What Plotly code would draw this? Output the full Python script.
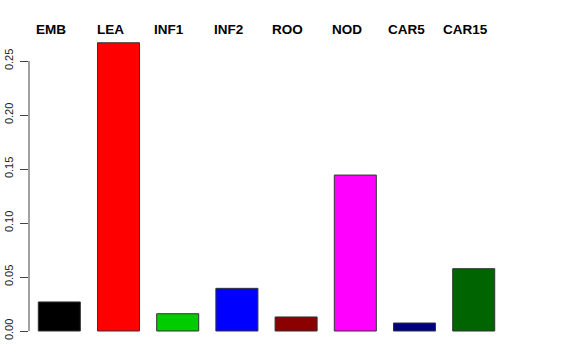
import plotly.graph_objects as go

categories = ["EMB", "LEA", "INF1", "INF2", "ROO", "NOD", "CAR5", "CAR15"]
values = [0.0269, 0.2669, 0.0160, 0.0395, 0.0130, 0.1444, 0.0074, 0.0577]
colors = ["#000000", "#FF0000", "#00CD00", "#0000FF", "#8B0000", "#FF00FF", "#000080", "#006400"]
tick_vals = [0.00, 0.05, 0.10, 0.15, 0.20, 0.25]
tick_text = ["0.00", "0.05", "0.10", "0.15", "0.20", "0.25"]

fig = go.Figure()
fig.add_trace(go.Bar(
    x=categories, y=values,
    marker=dict(color=colors, line=dict(color="#333333", width=1)),
    showlegend=False,
))

for c in categories:
    fig.add_annotation(x=c, y=1, xref="x", yref="paper", yanchor="bottom",
                       yshift=-8, xshift=-8.5,
                       text="<b>%s</b>" % c, showarrow=False,
                       font=dict(family="Liberation Sans, Arial, sans-serif", size=13.5, color="#000000"))

fig.add_shape(type="line", xref="paper", yref="y", x0=0, x1=0,
              y0=tick_vals[0], y1=tick_vals[-1], line=dict(color="#444444", width=1))

fig.update_layout(
    width=576, height=360,
    margin=dict(l=29, r=65, t=31, b=17, autoexpand=False),
    paper_bgcolor="white", plot_bgcolor="white",
    bargap=0.29,
    font=dict(family="Liberation Sans, Arial, sans-serif", color="#000000"),
    xaxis=dict(visible=False, range=[-0.512, 7.63], automargin=False),
    yaxis=dict(range=[-0.01111, 0.27778], tickvals=tick_vals, ticktext=tick_text,
               ticks="outside", ticklen=8, tickcolor="#444444", tickwidth=1,
               tickangle=-90, showgrid=False, zeroline=False, showline=False,
               automargin=False, ticklabelstandoff=3,
               tickfont=dict(size=11, color="#222222")),
)

fig.write_html("out.html")
